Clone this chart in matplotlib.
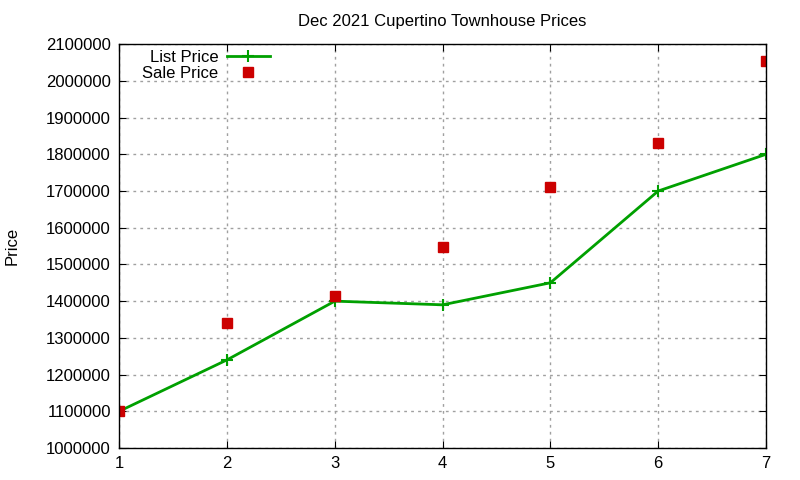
import matplotlib
matplotlib.use("Agg")
import matplotlib.pyplot as plt

plt.rcParams["font.family"] = ["Liberation Sans", "DejaVu Sans"]

months = [1, 2, 3, 4, 5, 6, 7]
list_price = [1100000, 1240000, 1400000, 1390000, 1450000, 1700000, 1800000]
sale_price = [1100000, 1340000, 1415000, 1548000, 1710000, 1830000, 2053000]

GREEN = "#00a000"
RED = "#cc0000"

fig = plt.figure(figsize=(8, 4.8), dpi=100)
ax = fig.add_axes([0.149, 0.0667, 0.8085, 0.8413])

ax.plot(months, list_price, color=GREEN, linewidth=2, marker="+",
        markersize=8, markeredgewidth=1.5, label="List Price")
ax.plot(months, sale_price, linestyle="none", color=RED, marker="s",
        markersize=6.5, label="Sale Price")

ax.set_xlim(1, 7)
ax.set_ylim(1000000, 2100000)
ax.set_xticks(months)
ax.set_yticks(range(1000000, 2100001, 100000))
ax.ticklabel_format(axis="y", style="plain", useOffset=False)

ax.grid(True, color="#a0a0a0", linestyle=(0, (2, 3)), linewidth=1)
ax.tick_params(direction="in", top=True, right=True, length=5,
               labelsize=12, pad=6)
for s in ax.spines.values():
    s.set_linewidth(1)

ax.set_title("Dec 2021 Cupertino Townhouse Prices", fontsize=12, pad=13)
ax.set_ylabel("Price", fontsize=12, labelpad=19)

ax.legend(loc="upper left", bbox_to_anchor=(0.02, 1.01), frameon=False,
          markerfirst=False, fontsize=12, handlelength=2.6,
          handletextpad=0.5, borderaxespad=0.2, labelspacing=0.05)

fig.savefig("out.png", dpi=100)
